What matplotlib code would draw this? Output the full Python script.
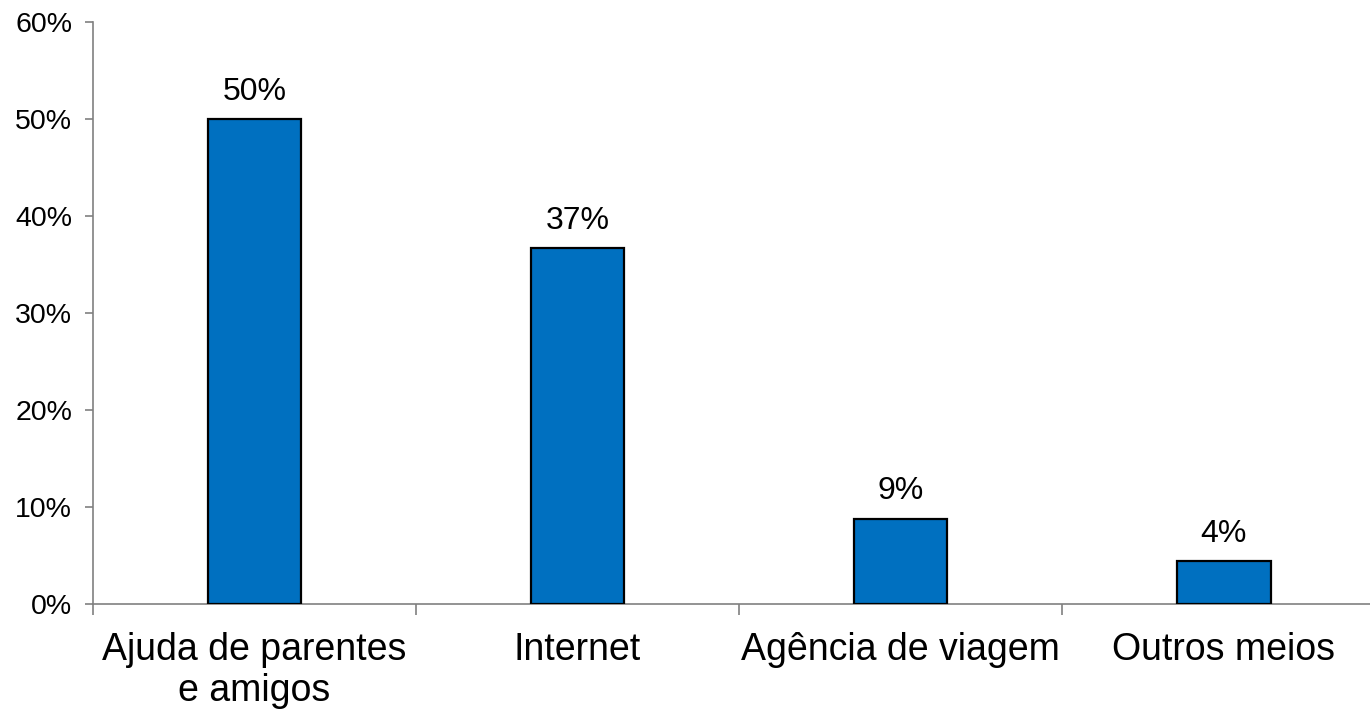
import matplotlib
matplotlib.use("Agg")
import matplotlib.pyplot as plt
from matplotlib.ticker import PercentFormatter

plt.rcParams["font.family"] = ["Liberation Sans", "DejaVu Sans"]

categories = ["Ajuda de parentes\ne amigos", "Internet", "Agência de viagem", "Outros meios"]
values = [50.0, 36.7, 8.8, 4.4]
labels = ["50%", "37%", "9%", "4%"]

fig = plt.figure(figsize=(13.7, 7.14), dpi=100)
ax = fig.add_axes([93 / 1370, 1 - 604 / 714, 1 - 93 / 1370, (604 - 22) / 714])

x = range(len(categories))
bars = ax.bar(x, values, width=0.29, color="#0070C0", edgecolor="black", linewidth=1.6, zorder=3)

for b, lab in zip(bars, labels):
    ax.annotate(lab, (b.get_x() + b.get_width() / 2, b.get_height()),
                xytext=(0, 9), textcoords="offset points",
                ha="center", va="bottom", fontsize=23)

ax.set_ylim(0, 60)
ax.set_xlim(-0.5, 3.453)
ax.set_yticks(range(0, 61, 10))
ax.yaxis.set_major_formatter(PercentFormatter(decimals=0))
ax.tick_params(axis="y", labelsize=20.5, length=6, color="#808080", width=1.2, pad=9)

# category ticks sit between the bars, labels in the middle
ax.set_xticks([-0.5, 0.5, 1.5, 2.5])
ax.set_xticklabels([])
ax.set_xticks(list(x), minor=True)
ax.set_xticklabels(categories, minor=True, fontsize=27)
ax.tick_params(axis="x", which="major", length=8, color="#808080", width=1.2)
ax.tick_params(axis="x", which="minor", length=0, pad=20)

for s in ["top", "right"]:
    ax.spines[s].set_visible(False)
for s in ["left", "bottom"]:
    ax.spines[s].set_color("#808080")
    ax.spines[s].set_linewidth(1.2)

fig.savefig("out.png", dpi=100)
